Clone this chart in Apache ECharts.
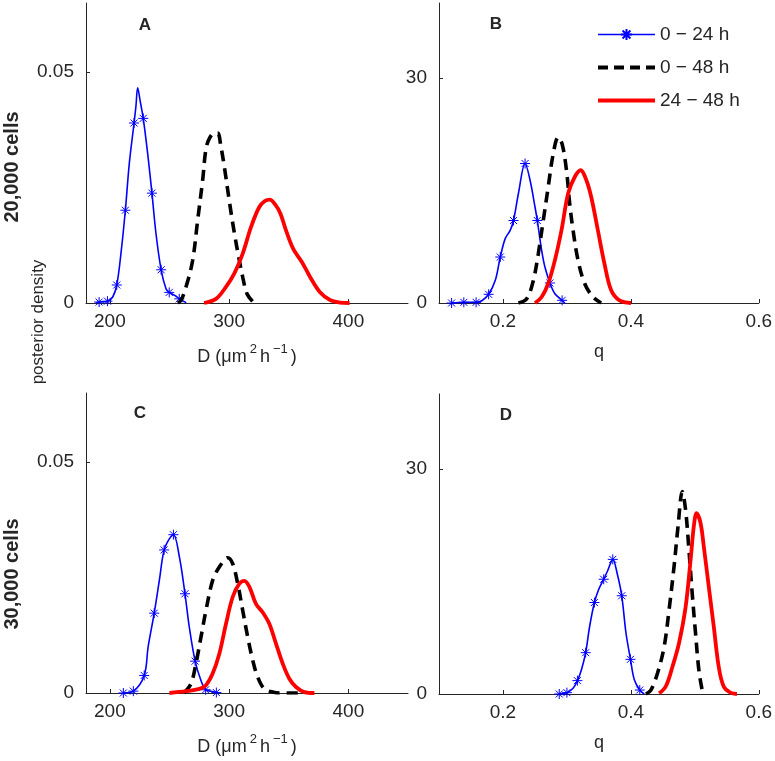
<!DOCTYPE html>
<html>
<head>
<meta charset="utf-8">
<script src="https://cdn.jsdelivr.net/npm/echarts@6/dist/echarts.min.js"></script>
<style>
html,body{margin:0;padding:0;background:#fff;}
#c{width:775px;height:761px;}
</style>
</head>
<body>
<div id="c"></div>
<script>
// ---- tick values ----
const dTicks = [200, 300, 400];
const qTicks = [0.2, 0.4, 0.6];
const dDensTicks = [0, 0.05];
const qDensTicks = [0, 30];
const seriesNames = ['0 \u2212 24 h', '0 \u2212 48 h', '24 \u2212 48 h'];
const panelLabels = ['A', 'B', 'C', 'D'];
const rowLabels = ['20,000 cells', '30,000 cells'];

// ---- Panel A (20,000 cells, D) ----
const aBlueLine = [[188.4,0],[202.4,0.0013],[209.3,0.0107],[216.3,0.0302],[221.9,0.0427],[223.3,0.0466],[225.6,0.0435],[231.7,0.0324],[238.7,0.0150],[247.1,0.0031],[254.1,0.0017],[262.5,0.0003],[264,0]];
const aBlueMarks = [[191,0.0002],[198,0.0004],[205.8,0.0039],[213,0.0201],[220.3,0.0390],[228,0.0400],[235.3,0.0238],[243,0.0072],[249.8,0.0023],[258.2,0.0009]];
const aBlack = [[257,0],[259.7,0.0006],[263.9,0.0035],[269.4,0.0092],[273.6,0.0179],[277.8,0.0266],[280.6,0.0334],[283.4,0.0356],[287.6,0.0368],[290.4,0.0368],[293.2,0.0338],[296,0.0295],[300.5,0.0215],[304.5,0.0150],[308,0.0100],[311.5,0.0055],[315,0.0020],[319.8,0.0003],[322,0]];
const aRed = [[279,0],[289,0.0009],[297.4,0.0035],[304.4,0.0064],[311.4,0.0107],[318.4,0.0165],[325.3,0.0208],[330,0.0221],[334,0.0224],[339,0.0212],[343,0.0194],[348,0.0155],[354,0.0116],[361,0.0089],[368,0.0056],[376,0.0024],[385,0.0006],[393,0.0001],[401,0]];

// ---- Panel B (20,000 cells, q) ----
const bBlueLine = [[0.167,0.3],[0.188,3.02],[0.2035,8.58],[0.2113,9.69],[0.2242,14.6],[0.2423,16.4],[0.2501,12.8],[0.2605,7.02],[0.2656,4.8],[0.2812,1.24],[0.2967,0]];
const bBlueMarks = [[0.1197,0],[0.1388,0.09],[0.158,0.09],[0.1776,1.16],[0.1958,6.13],[0.2165,11.0],[0.2346,18.6],[0.2537,11.0],[0.2734,2.67],[0.2925,0.36]];
const bBlack = [[0.2242,0],[0.2372,0.58],[0.2475,3.0],[0.2553,6.6],[0.263,11.0],[0.2708,15.5],[0.2786,19.9],[0.2863,22.1],[0.2925,21.2],[0.2993,17.7],[0.3044,13.2],[0.3096,9.7],[0.3174,5.7],[0.3277,2.6],[0.3407,0.8],[0.3536,0]];
const bRed = [[0.2501,0],[0.2605,0.8],[0.2708,2.6],[0.2812,5.7],[0.2915,9.7],[0.3019,14.6],[0.3122,16.8],[0.3215,17.7],[0.3303,16.4],[0.3381,14.1],[0.3484,9.7],[0.3588,5.2],[0.3692,1.7],[0.3821,0.36],[0.4002,0]];

// ---- Panel C (30,000 cells, D) ----
const cBlueLine = [[232.1,0.0100],[241.5,0.0244],[249.9,0.0334],[258.3,0.0295],[266.6,0.0143],[276.4,0.0027],[284.8,0.0004],[292,0]];
const cBlueMarks = [[211.3,0],[219.7,0.0004],[228.8,0.0038],[237.2,0.0173],[245.5,0.0310],[253.3,0.0343],[263,0.0215],[271.5,0.0069],[280.3,0.0007],[289.3,0.0001]];
const cBlack = [[262,0],[268,0.0020],[272.2,0.0064],[276.4,0.0121],[280.6,0.0179],[286.2,0.0244],[291.8,0.0273],[298.8,0.0293],[303,0.0280],[307.2,0.0237],[311.4,0.0179],[315.6,0.0121],[319.8,0.0071],[323.9,0.0035],[329.5,0.0009],[336.5,0.0002],[342,0],[360,0]];
const cRed = [[250,0],[263.9,0.0004],[275,0.0009],[280.6,0.0017],[286.2,0.0042],[291.8,0.0085],[297.4,0.0150],[303,0.0208],[308.6,0.0237],[312.8,0.0243],[317,0.0230],[322.5,0.0193],[328.1,0.0175],[333.7,0.0150],[339.3,0.0107],[344.9,0.0064],[350.5,0.0031],[356.1,0.0013],[363.1,0.0002],[371.5,0]];

// ---- Panel D (30,000 cells, q) ----
const dBlueLine = [[0.3096,0.76],[0.3226,3.2],[0.3355,9.0],[0.3495,13.9],[0.364,16.5],[0.3785,16.1],[0.3924,8.1],[0.4054,1.9],[0.4209,0]];
const dBlueMarks = [[0.288,0],[0.3,0.18],[0.3164,1.78],[0.3293,5.51],[0.343,12.2],[0.3575,15.3],[0.3717,17.95],[0.3857,13.1],[0.3994,4.62],[0.4139,0.53]];
const dBlack = [[0.4235,0],[0.4313,0.53],[0.4416,2.76],[0.452,6.3],[0.4597,11.2],[0.4675,17.0],[0.4737,22.3],[0.4804,27.0],[0.4856,24.5],[0.4908,19.2],[0.4959,13.4],[0.5011,8.1],[0.5063,3.2],[0.5115,0.53],[0.514,0]];
const dRed = [[0.4442,0.09],[0.4545,1.0],[0.4649,3.6],[0.4753,6.8],[0.4856,11.6],[0.4934,17.9],[0.4986,22.5],[0.5027,24.1],[0.5089,22.8],[0.5141,19.6],[0.5218,14.3],[0.5296,9.0],[0.5374,3.6],[0.5451,1.0],[0.5555,0.18],[0.5658,0]];

// ---------------------------------------------------------------
const FONT = '"Liberation Sans", Arial, Helvetica, sans-serif';
const AX = '#262626';
const STAR = 'path://M5,0L5,10M0,5L10,5M1.5,1.5L8.5,8.5M1.5,8.5L8.5,1.5';

const panels = [
  {blueLine:aBlueLine, blueMarks:aBlueMarks, black:aBlack, red:aRed, xr:[180,450], xt:dTicks, yr:[0,0.065], yt:dDensTicks, xname:'D'},
  {blueLine:bBlueLine, blueMarks:bBlueMarks, black:bBlack, red:bRed, xr:[0.1,0.6], xt:qTicks, yr:[0,40], yt:qDensTicks, xname:'q'},
  {blueLine:cBlueLine, blueMarks:cBlueMarks, black:cBlack, red:cRed, xr:[180,450], xt:dTicks, yr:[0,0.065], yt:dDensTicks, xname:'D'},
  {blueLine:dBlueLine, blueMarks:dBlueMarks, black:dBlack, red:dRed, xr:[0.1,0.6], xt:qTicks, yr:[0,40], yt:qDensTicks, xname:'q'}
];
const grids = [
  {left:86, top:3, width:322, height:300},
  {left:439, top:3, width:322, height:300},
  {left:86, top:393, width:322, height:300},
  {left:439, top:394, width:322, height:300}
];

function blueData(line, marks) {
  const pts = line.map(p => ({value:p, symbol:'none'})).concat(marks.map(p => ({value:p})));
  pts.sort((a,b) => a.value[0] - b.value[0]);
  return pts;
}

const xAxes = [], yAxes = [], series = [];
panels.forEach((p, i) => {
  const dName = '{n|D (\u03bcm}{s|2}{n|h}{s|\u22121}{n|)}';
  xAxes.push({
    type:'value', gridIndex:i, min:p.xr[0], max:p.xr[1],
    name: p.xname === 'D' ? dName : '{n|q}',
    nameLocation:'middle', nameGap:40,
    nameTextStyle:{rich:{
      n:{fontFamily:FONT, fontSize:18, color:AX},
      s:{fontFamily:FONT, fontSize:13, color:AX, padding:[0,3,15,3]}
    }},
    axisLine:{show:true, onZero:false, lineStyle:{color:AX, width:1}},
    axisTick:{show:true, inside:true, length:4, customValues:p.xt, lineStyle:{color:AX}},
    axisLabel:{customValues:p.xt, margin:9, fontFamily:FONT, fontSize:19, color:AX},
    splitLine:{show:false}
  });
  yAxes.push({
    type:'value', gridIndex:i, min:p.yr[0], max:p.yr[1],
    axisLine:{show:true, onZero:false, lineStyle:{color:AX, width:1}},
    axisTick:{show:true, inside:true, length:4, customValues:p.yt, lineStyle:{color:AX}},
    axisLabel:{customValues:p.yt, margin:12, fontFamily:FONT, fontSize:19, color:AX},
    splitLine:{show:false}
  });
  series.push({
    type:'line', name:seriesNames[0], xAxisIndex:i, yAxisIndex:i,
    data:blueData(p.blueLine, p.blueMarks),
    symbol:STAR, symbolSize:10, showSymbol:true,
    smooth:0.35,
    lineStyle:{color:'#0000ff', width:1.6},
    itemStyle:{color:'#0000ff', borderColor:'#0000ff', borderWidth:1},
    silent:true, z:2
  });
  series.push({
    type:'line', name:seriesNames[1], xAxisIndex:i, yAxisIndex:i,
    data:p.black, symbol:'none', smooth:0.35,
    lineStyle:{color:'#000000', width:3.6, type:[11,7]},
    itemStyle:{color:'#000000'},
    silent:true, z:3
  });
  series.push({
    type:'line', name:seriesNames[2], xAxisIndex:i, yAxisIndex:i,
    data:p.red, symbol:'none', smooth:0.35,
    lineStyle:{color:'#ff0000', width:3.8},
    itemStyle:{color:'#ff0000'},
    silent:true, z:4
  });
});

const titlePos = [[145,25],[496,24],[140,413],[506,415]];
const graphic = [];
panelLabels.forEach((t, i) => {
  graphic.push({type:'text', x:titlePos[i][0], y:titlePos[i][1], silent:true,
    style:{text:t, fill:AX, font:'bold 17px ' + FONT, textAlign:'center', textVerticalAlign:'middle'}});
});
graphic.push({type:'text', x:12, y:167, rotation:Math.PI/2, silent:true,
  style:{text:rowLabels[0], fill:AX, font:'bold 20px ' + FONT, textAlign:'center', textVerticalAlign:'middle'}});
graphic.push({type:'text', x:12, y:574, rotation:Math.PI/2, silent:true,
  style:{text:rowLabels[1], fill:AX, font:'bold 20px ' + FONT, textAlign:'center', textVerticalAlign:'middle'}});
graphic.push({type:'text', x:38, y:322, rotation:Math.PI/2, silent:true,
  style:{text:'posterior density', fill:AX, font:'17px ' + FONT, textAlign:'center', textVerticalAlign:'middle'}});

const hidden = {color:'rgba(0,0,0,0)', borderColor:'rgba(0,0,0,0)', borderWidth:0};
const chart = echarts.init(document.getElementById('c'), null, {renderer:'canvas'});
chart.setOption({
  animation:false,
  backgroundColor:'#ffffff',
  grid:grids,
  xAxis:xAxes,
  yAxis:yAxes,
  legend:{
    data:[
      {name:seriesNames[0], lineStyle:{width:1.6}},
      {name:seriesNames[1], itemStyle:hidden, lineStyle:{width:4, type:[10,6]}},
      {name:seriesNames[2], itemStyle:hidden, lineStyle:{width:4}}
    ],
    orient:'vertical', left:591, top:20,
    itemWidth:57, itemHeight:14, itemGap:14,
    textStyle:{fontFamily:FONT, fontSize:19, color:AX},
    selectedMode:false
  },
  graphic:graphic,
  series:series
});
</script>
</body>
</html>
